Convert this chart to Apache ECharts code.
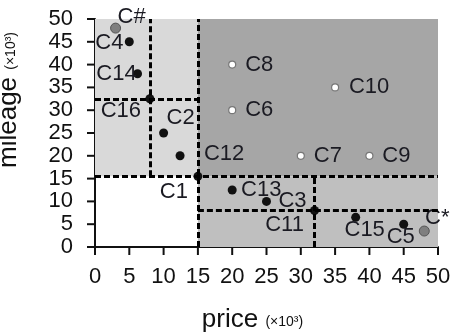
<!DOCTYPE html>
<html lang="en">
<head>
    <meta charset="UTF-8">
    <title>price vs mileage</title>
    <script src="https://cdn.jsdelivr.net/npm/echarts@6.0.0/dist/echarts.min.js"></script>
</head>
<body style="margin:0">
    <div id="chart" style="width: 456px; height: 332px;"></div>
    <script>
        // data (x = price, y = mileage, both x10^3)
        const blackPts = [
            [5, 45, 'C4'], [6.2, 38, 'C14'], [8, 32.5, 'C16'], [10, 25, 'C2'],
            [12.4, 20, 'C12'], [15, 15.5, 'C1'], [20, 12.5, 'C13'], [25, 10, 'C3'],
            [32, 8, 'C11'], [38, 6.5, 'C15'], [45, 5, 'C5']
        ];
        const grayPts = [[3, 48, 'C#'], [48, 3.5, 'C*']];
        const whitePts = [[20, 40, 'C8'], [20, 30, 'C6'], [35, 35, 'C10'], [30, 20, 'C7'], [40, 20, 'C9']];

        // shaded regions: [x1, y1, x2, y2, colour]
        const regions = [
            [0, 15.5, 15, 50, '#d9d9d9'],
            [15, 15.5, 50, 50, '#a6a6a6'],
            [15, 0, 50, 15.5, '#bfbfbf']
        ];
        // dashed split lines: [x1, y1, x2, y2]
        const splits = [
            [0, 15.5, 50, 15.5],
            [15, 0, 15, 50],
            [8, 15.5, 8, 50],
            [0, 32.5, 15, 32.5],
            [15, 8, 50, 8],
            [32, 0, 32, 15.5]
        ];

        // label offsets (label centre relative to point, px)
        const labelOff = {
            'C#': [16, -11], 'C4': [-20, 1], 'C14': [-21, 0], 'C16': [-29, 12],
            'C2': [17, -15], 'C12': [44, -2], 'C1': [-24, 16], 'C13': [29, 0],
            'C3': [26, 0], 'C11': [-30, 14], 'C15': [9, 13], 'C5': [-3, 13],
            'C*': [13, -13], 'C8': [27, 0], 'C6': [27, 0], 'C10': [34, 0],
            'C7': [27, 0], 'C9': [27, 0]
        };

        const font = 'Liberation Sans, Arial, sans-serif';

        function pts(arr) {
            return arr.map(p => ({
                value: [p[0], p[1]],
                name: p[2],
                label: { offset: labelOff[p[2]] }
            }));
        }

        const lbl = {
            show: true,
            position: 'inside',
            formatter: '{b}',
            fontFamily: font,
            fontSize: 22,
            color: '#1a1a22'
        };

        // the axis ticks would not draw here, so each tick label carries its own tick mark
        var myChart = echarts.init(document.getElementById('chart'));

        const option = {
            animation: false,
            grid: { left: 95, right: 18, top: 19, bottom: 85, outerBoundsMode: 'none' },
            xAxis: {
                type: 'value',
                min: 0, max: 50, interval: 5,
                name: '{a|price} {b|(×10³)}',
                nameLocation: 'middle',
                nameGap: 60,
                nameTextStyle: {
                    fontFamily: font, fontSize: 26, color: '#111',
                    padding: [0, 28, 0, 0],
                    rich: {
                        a: { fontFamily: font, fontSize: 26, color: '#111' },
                        b: { fontFamily: font, fontSize: 14, color: '#111', padding: [4, 0, 0, 0] }
                    }
                },
                axisLine: { show: true, lineStyle: { color: '#111', width: 2 } },
                axisTick: { show: false },
                axisLabel: {
                    margin: 0,
                    formatter: v => '{t|}\n{v|' + v + '}',
                    rich: {
                        t: { width: 2, height: 8, lineHeight: 8, backgroundColor: '#111' },
                        v: { fontFamily: font, fontSize: 22, lineHeight: 22, color: '#111', padding: [21, 0, 0, 0] }
                    }
                },
                splitLine: { show: false }
            },
            yAxis: {
                type: 'value',
                min: 0, max: 50, interval: 5,
                name: '{a|mileage} {b|(×10³)}',
                nameLocation: 'middle',
                nameRotate: 90,
                nameGap: 73,
                nameTextStyle: {
                    fontFamily: font, fontSize: 26, color: '#111',
                    padding: [0, 0, 0, 66],
                    rich: {
                        a: { fontFamily: font, fontSize: 26, color: '#111' },
                        b: { fontFamily: font, fontSize: 14, color: '#111', padding: [4, 0, 0, 0] }
                    }
                },
                axisLine: { show: true, lineStyle: { color: '#111', width: 2 } },
                axisTick: { show: false },
                axisLabel: {
                    margin: 0,
                    formatter: v => '{v|' + v + '}{t|}',
                    rich: {
                        t: { width: 8, height: 2, backgroundColor: '#111' },
                        v: { fontFamily: font, fontSize: 22, color: '#111', padding: [0, 14, 0, 0] }
                    }
                },
                splitLine: { show: false }
            },
            series: [
                {
                    type: 'scatter',
                    data: [],
                    silent: true,
                    z: 1,
                    markArea: {
                        silent: true,
                        data: regions.map(r => [
                            { coord: [r[0], r[1]], itemStyle: { color: r[4] } },
                            { coord: [r[2], r[3]] }
                        ])
                    },
                    markLine: {
                        silent: true,
                        symbol: ['none', 'none'],
                        label: { show: false },
                        lineStyle: { color: '#000', width: 3, type: [6, 3] },
                        data: splits.map(s => [
                            { coord: [s[0], s[1]] },
                            { coord: [s[2], s[3]] }
                        ])
                    }
                },
                {
                    type: 'scatter',
                    z: 3,
                    symbolSize: 9,
                    itemStyle: { color: '#111', opacity: 1 },
                    label: lbl,
                    data: pts(blackPts)
                },
                {
                    type: 'scatter',
                    z: 3,
                    symbolSize: 10,
                    itemStyle: { color: '#7f7f7f', borderColor: '#555', borderWidth: 1, opacity: 1 },
                    label: lbl,
                    data: pts(grayPts)
                },
                {
                    type: 'scatter',
                    z: 3,
                    symbolSize: 7,
                    itemStyle: { color: '#fff', borderColor: '#777', borderWidth: 1.2, opacity: 1 },
                    label: lbl,
                    data: pts(whitePts)
                }
            ]
        };

        myChart.setOption(option);
    </script>
</body>
</html>
